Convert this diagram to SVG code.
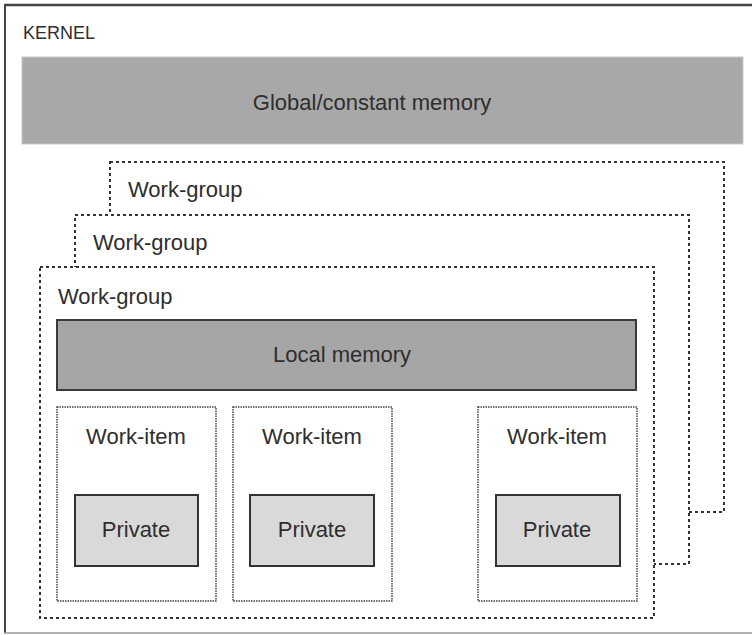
<svg xmlns="http://www.w3.org/2000/svg" width="752" height="635" viewBox="0 0 752 635">
<style>
text{font-family:"Liberation Sans",Arial,sans-serif;fill:#2e2e2e;font-size:22px}
.wg{fill:#fff;stroke:#333;stroke-width:2;stroke-dasharray:3 3}
.wi{fill:#fff;stroke:#444;stroke-width:1.5;stroke-dasharray:1.5 1}
.mem{fill:#a6a6a6;stroke:#3a3a3a;stroke-width:2}
.priv{fill:#d9d9d9;stroke:#333;stroke-width:2}
.c{text-anchor:middle}
</style>
<g id="frame">
<line x1="4" y1="5" x2="752" y2="5" stroke="#444" stroke-width="2.5"/>
<line x1="5" y1="4" x2="5" y2="633" stroke="#444" stroke-width="2"/>
<line x1="4" y1="633" x2="752" y2="633" stroke="#999" stroke-width="1.5"/>
<text x="23" y="39" style="font-size:18px">KERNEL</text>
</g>
<g id="global">
<rect x="22" y="57" width="721" height="87" fill="#a8a8a8" stroke="#c8c8c8" stroke-width="1"/>
<text class="c" x="372" y="110">Global/constant memory</text>
</g>
<g id="wg3">
<rect class="wg" x="110" y="162" width="614" height="350"/>
<text x="128" y="197">Work-group</text>
</g>
<g id="wg2">
<rect class="wg" x="75" y="215" width="614" height="349"/>
<text x="93" y="250">Work-group</text>
</g>
<g id="wg1">
<rect class="wg" x="40" y="267" width="614" height="351"/>
<text x="58" y="304">Work-group</text>
</g>
<g id="local">
<rect class="mem" x="57" y="320" width="579" height="70"/>
<text class="c" x="342" y="362">Local memory</text>
</g>
<g id="wi1">
<rect class="wi" x="57" y="407" width="159" height="194"/>
<text class="c" x="136" y="444">Work-item</text>
<rect class="priv" x="75" y="495" width="123" height="71"/>
<text class="c" x="136" y="537">Private</text>
</g>
<g id="wi2">
<rect class="wi" x="233" y="407" width="159" height="194"/>
<text class="c" x="312" y="444">Work-item</text>
<rect class="priv" x="250" y="495" width="124" height="71"/>
<text class="c" x="312" y="537">Private</text>
</g>
<g id="wi3">
<rect class="wi" x="478" y="407" width="159" height="194"/>
<text class="c" x="557" y="444">Work-item</text>
<rect class="priv" x="496" y="495" width="124" height="71"/>
<text class="c" x="557" y="537">Private</text>
</g>
<g id="connectors"/>
</svg>
